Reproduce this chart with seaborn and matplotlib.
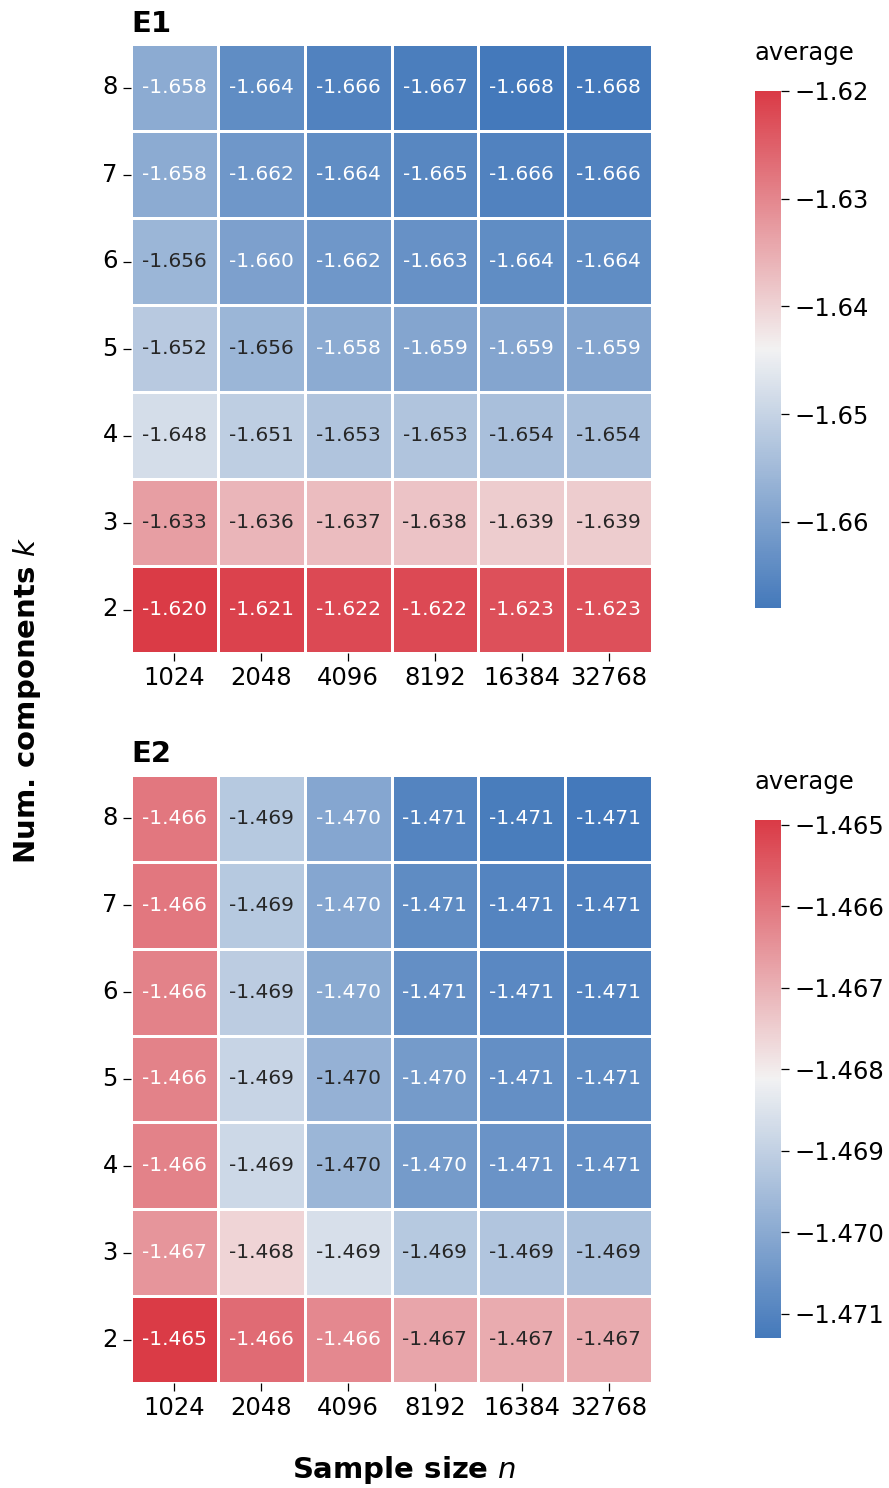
import numpy as np
import pandas as pd
import matplotlib
matplotlib.use("Agg")
import matplotlib.pyplot as plt
import matplotlib.ticker as mticker
import seaborn as sns

sample_sizes = [1024, 2048, 4096, 8192, 16384, 32768]
components = [8, 7, 6, 5, 4, 3, 2]

# E1 averages (rows k = 8 .. 2)
e1_values = [
    [-1.658, -1.664, -1.666, -1.667, -1.668, -1.668],
    [-1.658, -1.662, -1.664, -1.665, -1.666, -1.666],
    [-1.656, -1.660, -1.662, -1.663, -1.664, -1.664],
    [-1.652, -1.656, -1.658, -1.659, -1.659, -1.659],
    [-1.648, -1.651, -1.653, -1.653, -1.654, -1.654],
    [-1.633, -1.636, -1.637, -1.638, -1.639, -1.639],
    [-1.620, -1.621, -1.622, -1.622, -1.623, -1.623],
]

# E2 averages (rows k = 8 .. 2), extra digit
e2_values = [
    [-1.4660, -1.4692, -1.4701, -1.4710, -1.4712, -1.4713],
    [-1.4660, -1.4692, -1.4701, -1.4708, -1.4710, -1.4711],
    [-1.4662, -1.4691, -1.4700, -1.4707, -1.4709, -1.4710],
    [-1.4662, -1.4689, -1.4698, -1.4704, -1.4707, -1.4708],
    [-1.4662, -1.4688, -1.4697, -1.4704, -1.4706, -1.4707],
    [-1.46651, -1.4676, -1.4686, -1.4692, -1.4693, -1.4694],
    [-1.46494, -1.4658, -1.4663, -1.4668, -1.4669, -1.4669],
]

e1_ticks = [-1.62, -1.63, -1.64, -1.65, -1.66]
e2_ticks = [-1.465, -1.466, -1.467, -1.468, -1.469, -1.470, -1.471]

W, H = 889, 1488
fig = plt.figure(figsize=(W / 100, H / 100), dpi=100)
cmap = sns.diverging_palette(250, 10, as_cmap=True)


def box(left, top, right, bottom):
    return [left / W, 1 - bottom / H, (right - left) / W, (bottom - top) / H]


def minus_fmt(decimals):
    return mticker.FuncFormatter(
        lambda v, pos: f"{v:.{decimals}f}".replace("-", "\u2212"))


panels = [
    ("E1", e1_values, e1_ticks, 2, (131, 44, 652, 653), (755, 91, 781, 608)),
    ("E2", e2_values, e2_ticks, 3, (131, 775, 652, 1383), (755, 820, 781, 1338)),
]

for title, vals, ticks, dec, hm_box, cb_box in panels:
    df = pd.DataFrame(vals, index=components, columns=sample_sizes)
    ax = fig.add_axes(box(*hm_box))
    cax = fig.add_axes(box(*cb_box))
    sns.heatmap(df, ax=ax, cbar_ax=cax, cmap=cmap, annot=True, fmt=".3f",
                linewidths=1, linecolor="white",
                annot_kws={"fontsize": 14.5})
    ax.set_title(title, loc="left", fontweight="bold", fontsize=21, pad=9)
    ax.set_xlabel("")
    ax.set_ylabel("")
    ax.tick_params(axis="both", labelsize=17.5, length=6, width=0.9)
    ax.set_yticklabels(ax.get_yticklabels(), rotation=0)
    ax.set_xticklabels(ax.get_xticklabels(), rotation=0)
    cax.yaxis.set_major_locator(mticker.FixedLocator(ticks))
    cax.yaxis.set_major_formatter(minus_fmt(dec))
    cax.tick_params(labelsize=17.5, length=6, width=0.9)
    cax.set_title("average", loc="left", fontsize=17.5, pad=22)

fig.text(0.030, 1 - 700 / H, "Num. components $k$", rotation=90,
         ha="center", va="center", fontsize=21, fontweight="bold")
fig.text(404 / W, 1 - 1470 / H, "Sample size $n$",
         ha="center", va="center", fontsize=21, fontweight="bold")

fig.savefig("out.png", dpi=100)
